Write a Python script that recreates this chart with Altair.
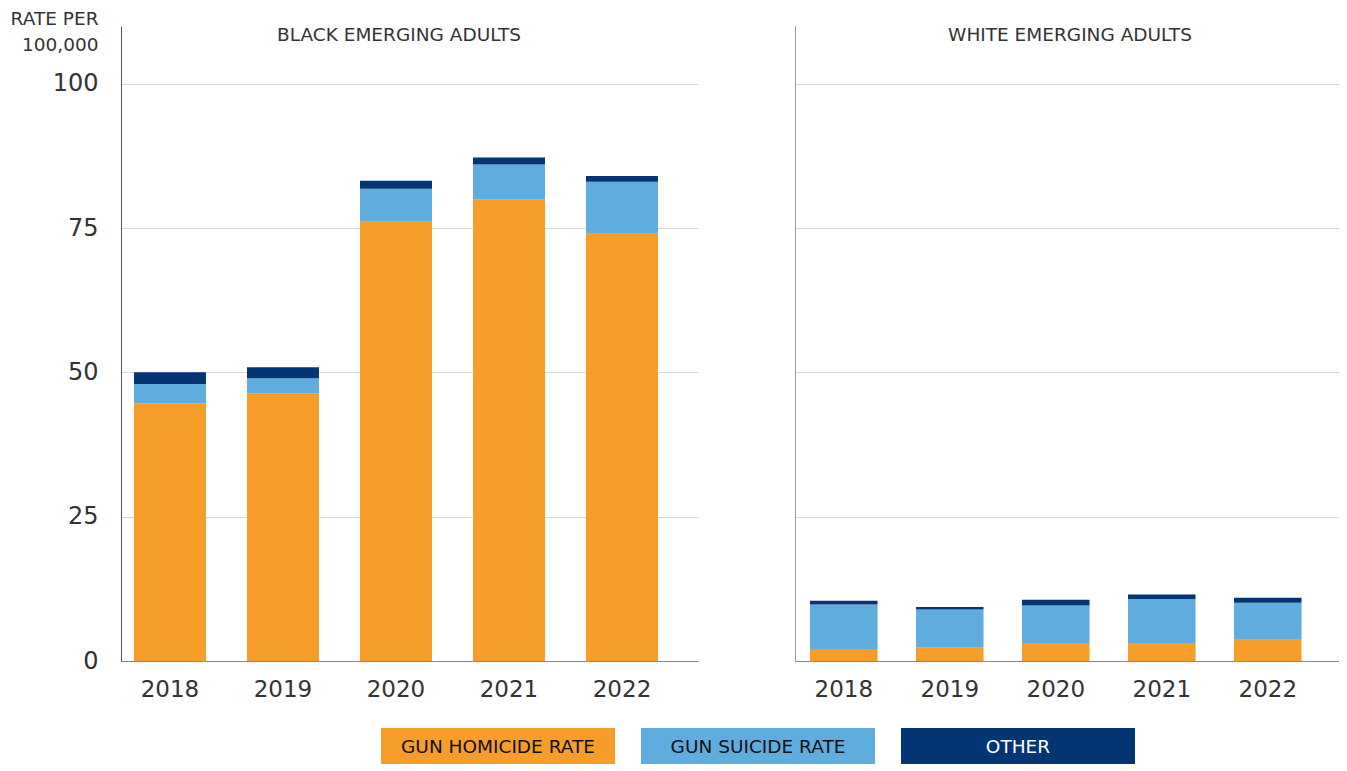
import altair as alt
import pandas as pd

years = ["2018", "2019", "2020", "2021", "2022"]
series = ["GUN HOMICIDE RATE", "GUN SUICIDE RATE", "OTHER"]
colors = ["#F79D2A", "#5FACDE", "#033574"]

black_homicide = [44.6, 46.4, 76.1, 80.0, 74.0]
black_suicide = [3.4, 2.6, 5.7, 6.0, 9.0]
black_other = [2.0, 1.9, 1.4, 1.2, 1.0]

white_homicide = [2.1, 2.4, 3.1, 3.1, 3.7]
white_suicide = [7.7, 6.5, 6.5, 7.65, 6.4]
white_other = [0.65, 0.45, 1.0, 0.75, 0.85]

y_ticks = [0, 25, 50, 75, 100]

FONT = "DejaVu Sans"


def build(hom, sui, oth):
    rows = []
    for i, yr in enumerate(years):
        for k, (s, vals) in enumerate(zip(series, [hom, sui, oth])):
            rows.append({"year": yr, "series": s, "value": vals[i], "order": k})
    return pd.DataFrame(rows)


color_scale = alt.Scale(domain=series, range=colors)


def panel(df, title, width, po, align, left, title_x):
    if left:
        yaxis = alt.Axis(values=y_ticks, grid=True, gridColor="#d9d9d9", domainColor="#555",
                         ticks=False, labelFontSize=24, labelPadding=23, labelColor="#333",
                         labelFont=FONT,
                         title=["RATE PER", "100,000"], titleAngle=0, titleAlign="right",
                         titleX=-23, titleY=-2, titleBaseline="alphabetic", titleFontSize=18.5,
                         titleFontWeight="normal", titleLineHeight=26, titleColor="#333",
                         titleFont=FONT)
    else:
        yaxis = alt.Axis(values=y_ticks, grid=True, gridColor="#d9d9d9", domainColor="#999",
                         ticks=False, labels=False, title=None)
    bars = alt.Chart(df).mark_bar().encode(
        x=alt.X("year:N", sort=years,
                scale=alt.Scale(paddingInner=0.363, paddingOuter=po, align=align),
                axis=alt.Axis(title=None, labelAngle=0, labelFontSize=23, labelPadding=17,
                              ticks=False, domainColor="#888", labelColor="#333",
                              labelFont=FONT)),
        y=alt.Y("value:Q", stack="zero", scale=alt.Scale(domain=[0, 110], nice=False),
                axis=yaxis),
        color=alt.Color("series:N", scale=color_scale, legend=None),
        order=alt.Order("order:Q"),
    )
    ttl = alt.Chart(pd.DataFrame({"t": [title]})).mark_text(
        fontSize=18.5, font=FONT, color="#333", baseline="middle", align="center"
    ).encode(text="t:N", x=alt.value(title_x), y=alt.value(9))
    return alt.layer(bars, ttl).properties(width=width, height=635)


left = panel(build(black_homicide, black_suicide, black_other), "BLACK EMERGING ADULTS",
             577, 0.2345, 0.245, True, 278)
right = panel(build(white_homicide, white_suicide, white_other), "WHITE EMERGING ADULTS",
              544, 0.2475, 0.286, False, 275)

top = alt.hconcat(left, right, spacing=97)

leg_df = pd.DataFrame({"series": series})
leg_x = alt.X("series:N", sort=series, axis=None,
              scale=alt.Scale(paddingInner=0.1, paddingOuter=0.5, align=1.0))
leg_rect = alt.Chart(leg_df).mark_rect().encode(
    x=leg_x,
    color=alt.Color("series:N", scale=color_scale, legend=None),
)
leg_text = alt.Chart(leg_df).mark_text(fontSize=18.5, font=FONT).encode(
    x=leg_x,
    y=alt.value(19),
    text="series:N",
    color=alt.condition(alt.datum.series == "OTHER", alt.value("#ffffff"), alt.value("#111111")),
)
legend = alt.layer(leg_rect, leg_text).properties(width=1014, height=36)

chart = alt.vconcat(top, legend, spacing=27).properties(
    padding={"left": 2, "top": 1, "right": 0, "bottom": 0}
).configure_view(stroke=None).configure_concat(spacing=0)

chart.save("out.html", embed_options={"renderer": "svg", "actions": False})
